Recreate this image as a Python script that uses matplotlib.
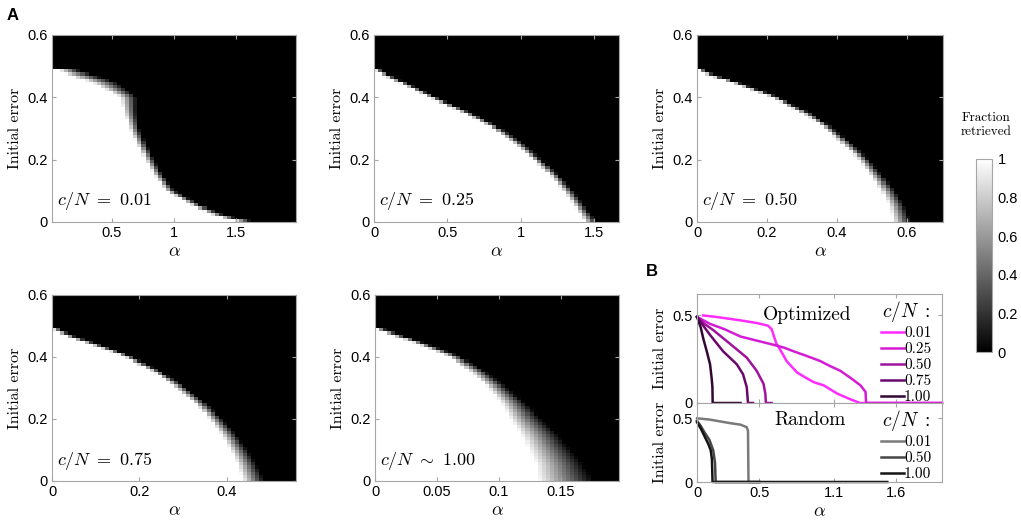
import numpy as np
import matplotlib.pyplot as plt
from matplotlib.ticker import FuncFormatter

plt.rcParams['mathtext.fontset'] = 'cm'
plt.rcParams['font.family'] = ['Liberation Sans', 'DejaVu Sans']
serif = 'cmr10'
spine_col = '#a6a6a6'

# ---- panel A: boundary of the retrieved region, critical alpha for each initial error
err_lv = [0.0, 0.02, 0.05, 0.10, 0.15, 0.20, 0.25, 0.30, 0.35, 0.40, 0.45, 0.47, 0.49, 0.50]
crit_001 = [1.62, 1.38, 1.20, 0.97, 0.87, 0.80, 0.735, 0.68, 0.645, 0.63, 0.42, 0.25, 0.12, -0.2]
crit_025 = [1.49, 1.46, 1.41, 1.33, 1.23, 1.12, 0.99, 0.84, 0.63, 0.39, 0.17, 0.08, 0.0, -0.2]
crit_050 = [0.59, 0.585, 0.575, 0.55, 0.515, 0.48, 0.43, 0.38, 0.31, 0.22, 0.10, 0.04, 0.0, -0.1]
crit_075 = [0.465, 0.46, 0.45, 0.43, 0.405, 0.375, 0.34, 0.295, 0.24, 0.17, 0.07, 0.03, 0.0, -0.1]
crit_100 = [0.155, 0.153, 0.15, 0.142, 0.133, 0.122, 0.112, 0.099, 0.083, 0.063, 0.03, 0.015, 0.0, -0.05]
# transition width (in alpha) per error level
width_001 = [0.14, 0.10, 0.08, 0.07, 0.07, 0.07, 0.07, 0.08, 0.10, 0.14, 0.22, 0.22, 0.15, 0.1]
width_025 = [0.08, 0.08, 0.07, 0.07, 0.06, 0.06, 0.06, 0.06, 0.06, 0.05, 0.05, 0.05, 0.05, 0.05]
width_050 = [0.05, 0.05, 0.045, 0.04, 0.035, 0.03, 0.03, 0.025, 0.025, 0.02, 0.02, 0.02, 0.02, 0.02]
width_075 = [0.05, 0.05, 0.045, 0.04, 0.035, 0.03, 0.025, 0.025, 0.02, 0.02, 0.02, 0.02, 0.02, 0.02]
width_100 = [0.045, 0.045, 0.04, 0.035, 0.03, 0.025, 0.02, 0.016, 0.013, 0.01, 0.008, 0.008, 0.008, 0.008]

panels = [
    ("$c/N\\ =\\ 0.01$", crit_001, (0.02, 1.98), width_001, [0.5, 1, 1.5]),
    ("$c/N\\ =\\ 0.25$", crit_025, (0.0, 1.667), width_025, [0, 0.5, 1, 1.5]),
    ("$c/N\\ =\\ 0.50$", crit_050, (0.0, 0.703), width_050, [0, 0.2, 0.4, 0.6]),
    ("$c/N\\ =\\ 0.75$", crit_075, (0.0, 0.558), width_075, [0, 0.2, 0.4]),
    ("$c/N\\ \\sim\\ 1.00$", crit_100, (0.0, 0.197), width_100, [0, 0.05, 0.1, 0.15]),
]

# ---- panel B: Optimized curves (alpha, initial error)
opt_labels = ["0.01", "0.25", "0.50", "0.75", "1.00"]
opt_colors = ['#ff2bff', '#d41cd4', '#a0129e', '#6c086c', '#320832']
opt_a = [
    [0.05, 0.15, 0.35, 0.48, 0.57, 0.60, 0.637, 0.68, 0.72, 0.804, 0.86, 0.94, 1.02, 1.126, 1.22, 1.31, 1.97],
    [0.0, 0.105, 0.22, 0.35, 0.48, 0.616, 0.70, 0.777, 0.88, 0.99, 1.07, 1.153, 1.24, 1.315, 1.355, 1.36, 1.97],
    [0.0, 0.06, 0.13, 0.26, 0.40, 0.48, 0.535, 0.55, 0.554, 0.60],
    [0.0, 0.05, 0.105, 0.21, 0.32, 0.37, 0.40, 0.41, 0.45],
    [0.0, 0.03, 0.05, 0.08, 0.105, 0.118, 0.124, 0.126, 0.35],
]
opt_e = [
    [0.498, 0.49, 0.47, 0.455, 0.44, 0.42, 0.34, 0.29, 0.239, 0.174, 0.15, 0.118, 0.10, 0.054, 0.025, 0.0, 0.0],
    [0.49, 0.45, 0.42, 0.378, 0.355, 0.331, 0.315, 0.294, 0.268, 0.239, 0.21, 0.183, 0.14, 0.10, 0.063, 0.0, 0.0],
    [0.49, 0.45, 0.415, 0.34, 0.258, 0.183, 0.109, 0.05, 0.0, 0.0],
    [0.49, 0.44, 0.387, 0.294, 0.22, 0.164, 0.09, 0.0, 0.0],
    [0.49, 0.43, 0.368, 0.29, 0.22, 0.14, 0.09, 0.0, 0.0],
]

# ---- panel B: Random curves
rnd_labels = ["0.01", "0.50", "1.00"]
rnd_colors = ['#7a7a7a', '#474747', '#141414']
rnd_a = [
    [0.0, 0.1, 0.266, 0.35, 0.40, 0.41, 0.414, 0.5],
    [0.0, 0.03, 0.06, 0.10, 0.13, 0.145, 0.15, 0.5],
    [0.0, 0.03, 0.06, 0.09, 0.11, 0.12, 0.125, 1.53],
]
rnd_e = [
    [0.50, 0.49, 0.462, 0.45, 0.43, 0.40, 0.0, 0.0],
    [0.48, 0.44, 0.39, 0.33, 0.25, 0.15, 0.0, 0.0],
    [0.47, 0.42, 0.36, 0.30, 0.25, 0.18, 0.0, 0.0],
]

W, H = 1021, 526
fig = plt.figure(figsize=(W / 100, H / 100), dpi=100)


def box(l, t, r, b):
    return [l / W, 1 - b / H, (r - l) / W, (b - t) / H]


def style(ax):
    for s in ax.spines.values():
        s.set_color(spine_col)
        s.set_linewidth(0.8)
    ax.tick_params(direction='in', length=3, color=spine_col, labelsize=10.5,
                   top=True, right=True, pad=3)
    ax.xaxis.set_major_formatter(FuncFormatter(lambda v, p: '%g' % v))
    ax.yaxis.set_major_formatter(FuncFormatter(lambda v, p: '%g' % v))


pos = [(52, 35, 296, 222), (374, 35, 619, 222), (697, 35, 943, 222),
       (52, 295, 296, 481), (375, 295, 619, 481)]
im = None
for (txt, crit, xl, w, xt), p in zip(panels, pos):
    ax = fig.add_axes(box(*p))
    a = np.linspace(xl[0], xl[1], 60)
    e = (np.arange(60) + 0.5) * 0.01
    ac = np.interp(e, err_lv, crit)
    wr = np.interp(e, err_lv, w)
    z = np.clip(0.5 - (a[None, :] - ac[:, None]) / wr[:, None], 0, 1)
    im = ax.imshow(z, origin='lower', aspect='auto', cmap='gray', vmin=0, vmax=1,
                   extent=[xl[0], xl[1], 0, 0.6], interpolation='nearest')
    ax.set_xlim(xl)
    ax.set_ylim(0, 0.6)
    ax.set_xticks(xt)
    ax.set_yticks([0, 0.2, 0.4, 0.6])
    style(ax)
    ax.set_ylabel("Initial error", family=serif, fontsize=11.5, labelpad=4)
    ax.set_xlabel(r"$\alpha$", fontsize=13, labelpad=2)
    ax.text(0.02, 0.11, txt, transform=ax.transAxes, fontsize=13, va='center')

# colorbar
cax = fig.add_axes(box(976, 159, 992, 352))
cb = fig.colorbar(im, cax=cax, ticks=[0, 0.2, 0.4, 0.6, 0.8, 1])
cb.outline.set_edgecolor(spine_col)
cb.ax.tick_params(length=0, labelsize=10.5, pad=4)
cb.ax.yaxis.set_major_formatter(FuncFormatter(lambda v, p: '%g' % v))
fig.text(986 / W, 1 - 125 / H, "Fraction\nretrieved", family=serif, fontsize=9.5,
         ha='center', va='center', linespacing=1.3)

# panel B
axo = fig.add_axes(box(697, 294, 942, 403))
for a_, e_, c, lab in zip(opt_a, opt_e, opt_colors, opt_labels):
    axo.plot(a_, e_, color=c, lw=1.8, label=lab, clip_on=False)
axo.set_xlim(0, 1.97)
axo.set_ylim(0, 0.62)
axo.set_xticks([0, 0.5, 1.1, 1.6])
axo.set_yticks([0, 0.5])
style(axo)
axo.tick_params(labelbottom=False)
axo.set_ylabel("Initial error", family=serif, fontsize=11.5, labelpad=4)
axo.text(0.45, 0.81, "Optimized", transform=axo.transAxes, family=serif,
         fontsize=14, ha='center', va='center')
axo.legend(title="$c/N\\ :$", loc='upper right', bbox_to_anchor=(1.0, 1.05), frameon=False,
           handlelength=1.5, handletextpad=0.0, labelspacing=0.15, borderpad=0.2,
           prop={'family': serif, 'size': 11}, title_fontsize=14)

axr = fig.add_axes(box(697, 403, 942, 482))
for a_, e_, c, lab in zip(rnd_a, rnd_e, rnd_colors, rnd_labels):
    axr.plot(a_, e_, color=c, lw=1.8, label=lab, clip_on=False)
axr.set_xlim(0, 1.97)
axr.set_ylim(0, 0.62)
axr.set_xticks([0, 0.5, 1.1, 1.6])
axr.set_yticks([0, 0.5])
style(axr)
axr.set_ylabel("Initial error", family=serif, fontsize=11.5, labelpad=4)
axr.set_xlabel(r"$\alpha$", fontsize=13, labelpad=2)
axr.text(0.46, 0.78, "Random", transform=axr.transAxes, family=serif,
         fontsize=14, ha='center', va='center')
axr.legend(title="$c/N\\ :$", loc='upper right', bbox_to_anchor=(1.0, 1.07), frameon=False,
           handlelength=1.5, handletextpad=0.0, labelspacing=0.15, borderpad=0.2,
           prop={'family': serif, 'size': 11}, title_fontsize=14)

fig.text(13 / W, 1 - 15 / H, "A", fontsize=12, fontweight='bold', ha='center', va='center')
fig.text(652 / W, 1 - 272 / H, "B", fontsize=12, fontweight='bold', ha='center', va='center')

fig.savefig("out.png", dpi=100)
